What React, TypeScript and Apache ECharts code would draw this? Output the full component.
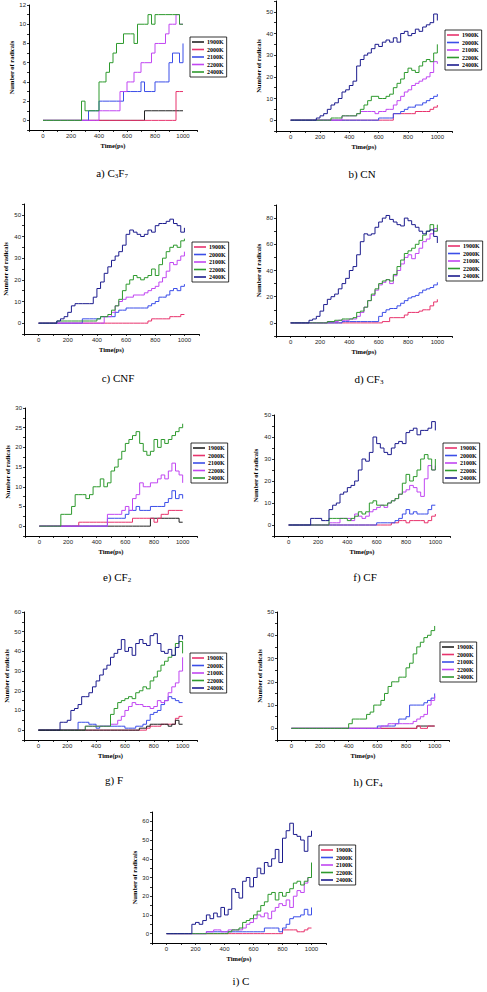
import React, { useEffect, useRef } from "react";
import * as echarts from "echarts";

const TIME = [0, 25, 50, 75, 100, 125, 150, 175, 200, 225, 250, 275, 300, 325, 350, 375, 400, 425, 450, 475, 500, 525, 550, 575, 600, 625, 650, 675, 700, 725, 750, 775, 800, 825, 850, 875, 900, 925, 950, 975, 1000];
const TEMPS = ["1900K", "2000K", "2100K", "2200K", "2400K"];
const X_LABELS = [0, 200, 400, 600, 800, 1000];

// a) C3F7
const a1900 = [0,0,0,0,0,0,0,0,0,0, 0,0,0,0,0,0,0,0,0,0, 0,0,0,0,0,0,0,0,0,1, 1,1,1,1,1,1,1,1,1,1, 1];
const a2000 = [0,0,0,0,0,0,0,0,0,0, 0,0,0,0,0,0,0,0,0,0, 0,0,0,0,0,0,0,0,0,0, 0,0,0,0,0,0,0,0,3,3, 3];
const a2100 = [0,0,0,0,0,0,0,0,0,0, 0,0,0,1,1,1,2,2,2,2, 2,2,2,3,3,3,3,3,4,3, 3,3,4,4,4,4,6,7,7,6, 8];
const a2200 = [0,0,0,0,0,0,0,0,0,0, 0,0,0,0,0,0,1,1,1,1, 1,1,3,3,4,4,5,5,6,6, 6,7,8,8,8,9,10,10,11,10, 10];
const a2400 = [0,0,0,0,0,0,0,0,0,0, 0,2,1,1,1,1,4,4,5,6, 7,8,8,9,9,9,8,10,10,10, 11,10,11,11,11,11,11,11,11,10, 10];

// b) CN
const b1900 = [0,0,0,0,0,0,0,0,0,0, 0,0,0,0,0,0,0,0,0,0, 0,0,0,0,0,0,0,0,3,3, 3,3,3,3,4,4,4,4,5,6, 7];
const b2000 = [0,0,0,0,0,0,0,0,0,0, 0,0,0,0,0,0,0,0,0,0, 0,0,0,0,1,1,1,1,3,3, 4,5,6,6,7,7,8,9,10,11, 12];
const b2100 = [0,0,0,0,0,0,0,0,0,0, 0,0,0,0,2,2,2,2,3,4, 4,4,4,3,4,4,5,5,7,9, 11,13,14,16,17,18,19,20,22,27, 26];
const b2200 = [0,0,0,0,0,0,0,0,0,0, 0,1,1,1,2,2,2,2,3,5, 7,9,11,11,10,10,11,12,15,17, 19,22,24,23,22,25,27,28,27,31, 35];
const b2400 = [0,0,0,0,0,0,0,1,2,3, 5,7,8,10,13,14,16,18,25,28, 30,31,33,35,34,36,37,36,38,36, 40,41,39,40,42,41,43,44,45,49, 46];

// c) CNF
const c1900 = [0,0,0,0,0,0,0,0,0,0, 0,0,0,0,0,0,0,0,0,0, 0,0,0,0,0,0,0,0,0,0, 1,2,2,2,2,2,3,3,3,4, 4];
const c2000 = [0,0,0,0,0,0,0,0,0,0, 0,0,2,2,2,2,2,3,3,3, 3,5,6,6,7,7,7,7,7,7, 8,9,10,12,12,13,15,16,15,17, 18];
const c2100 = [0,0,0,0,0,0,0,0,0,0, 0,0,0,0,0,0,0,0,3,3, 5,8,10,11,12,12,13,13,13,14, 15,16,17,19,21,24,28,27,29,31, 33];
const c2200 = [0,0,0,0,0,1,1,1,1,1, 1,1,1,1,1,1,2,3,3,4, 6,8,11,15,18,20,22,21,20,21, 22,25,22,27,30,33,35,36,35,38, 39];
const c2400 = [0,0,0,0,0,1,2,3,5,8, 9,9,9,9,9,12,16,19,23,26, 29,31,33,36,41,43,42,41,40,41, 43,42,45,46,46,47,48,46,45,42, 44];

// d) CF3
const d1900 = [0,0,0,0,0,0,0,0,0,0, 0,0,0,0,0,0,0,0,0,0, 0,0,0,0,0,1,1,4,4,4, 4,6,8,8,8,9,10,10,13,16, 18];
const d2000 = [0,0,0,0,0,0,0,0,0,0, 0,0,0,0,1,1,1,1,1,1, 1,1,1,1,5,8,10,11,11,13, 15,17,19,20,21,23,25,26,27,29, 31];
const d2100 = [0,0,0,0,0,0,0,0,0,0, 1,1,1,2,2,2,3,3,5,8, 12,17,21,25,29,31,33,30,36,40, 45,50,52,49,53,57,62,64,68,72, 70];
const d2200 = [0,0,0,0,0,0,0,0,0,0, 1,1,2,2,3,3,3,4,8,9, 12,17,22,26,30,32,33,32,37,43, 48,53,55,57,60,63,67,70,75,70, 75];
const d2400 = [0,0,0,0,0,2,3,5,9,14, 18,20,22,26,30,34,40,43,52,62, 68,67,68,73,77,80,82,79,77,75, 74,80,78,75,73,70,68,70,71,66, 61];

// e) CF2
const e1900 = [0,0,0,0,0,0,0,0,0,0, 0,0,0,0,0,0,0,0,0,0, 0,0,0,0,0,0,0,0,0,0, 0,2,2,2,2,2,2,2,2,1, 1];
const e2000 = [0,0,0,0,0,0,0,0,0,0, 0,1,1,1,1,1,1,1,1,1, 1,1,1,1,1,1,2,2,2,2, 2,2,1,2,3,3,4,4,4,4, 4];
const e2100 = [0,0,0,0,0,0,0,0,0,0, 0,0,0,0,0,0,0,0,0,2, 2,2,2,2,3,4,4,5,4,4, 4,5,5,5,5,6,7,9,7,8, 7];
const e2200 = [0,0,0,0,0,0,0,0,0,0, 0,0,0,0,0,0,0,0,0,3, 3,3,3,4,5,4,7,8,11,10, 10,11,11,12,13,12,14,16,14,13, 11];
const e2400 = [0,0,0,0,0,0,3,3,3,5, 8,8,8,7,8,10,10,12,10,11, 14,15,17,19,21,22,23,24,21,19, 18,19,22,20,22,21,22,23,24,25, 26];

// f) CF
const f1900 = [0,0,0,0,0,0,0,0,0,0, 0,0,0,0,0,0,0,0,0,0, 0,0,0,0,0,0,0,0,1,1, 2,2,1,2,2,2,2,1,2,4, 5];
const f2000 = [0,0,0,0,0,0,0,0,0,0, 0,0,0,0,0,0,0,0,0,0, 0,0,0,0,1,1,1,1,1,2, 3,5,7,5,6,5,5,5,7,9, 9];
const f2100 = [0,0,0,0,0,0,0,0,0,0, 0,1,1,1,3,3,3,2,5,4, 3,4,6,7,8,9,8,10,11,12, 14,15,16,18,17,15,13,21,27,25, 27];
const f2200 = [0,0,0,0,0,0,0,0,0,0, 0,3,3,3,3,3,2,3,4,6, 5,6,10,11,9,9,9,10,11,12, 14,19,23,20,22,25,30,32,30,25, 30];
const f2400 = [0,0,0,0,0,0,3,3,3,2, 2,7,9,10,14,15,17,18,20,25, 30,29,33,40,37,35,33,32,35,37, 38,37,42,43,44,41,43,43,44,47, 43];

// g) F
const g1900 = [0,0,0,0,0,0,0,0,0,0, 0,0,0,0,0,0,0,0,0,0, 0,0,0,0,0,0,0,0,0,0, 1,2,2,2,3,3,3,3,6,7, 7];
const gExtra = [0,0,0,0,0,0,0,0,0,0, 0,0,0,0,0,0,0,0,0,0, 0,0,0,0,0,0,0,0,1,1, 2,3,3,3,3,3,2,3,5,3, 3];
const g2000 = [0,0,0,0,0,0,0,0,0,0, 0,4,4,4,3,3,1,2,2,2, 2,2,2,2,1,1,1,2,2,3, 5,8,9,10,13,15,17,16,15,14, 14];
const g2100 = [0,0,0,0,0,0,0,0,0,0, 0,0,0,2,2,2,2,2,2,2, 3,3,5,7,10,12,14,13,13,12, 12,11,12,15,14,15,19,22,24,30, 37];
const g2200 = [0,0,0,0,0,0,0,0,0,0, 0,0,0,2,2,2,2,2,2,2, 8,11,14,15,16,17,16,19,20,22, 21,25,27,30,33,35,37,38,44,45, 39];
const g2400 = [0,0,0,0,0,0,4,4,5,10, 11,13,17,17,19,22,25,28,31,33, 37,39,41,46,40,42,38,44,46,44, 43,48,49,44,40,39,41,38,42,48, 46];

// h) CF4
const h1900 = [0,0,0,0,0,0,0,0,0,0, 0,0,0,0,0,0,0,0,0,0, 0,0,0,0,0,0,0,0,0,0, 0,0,0,0,0,1,1,1,1,1, 1];
const h2000 = [0,0,0,0,0,0,0,0,0,0, 0,0,0,0,0,0,0,0,0,0, 0,0,0,0,0,0,0,0,0,0, 0,0,0,0,0,1,0,0,1,1, 1];
const h2100 = [0,0,0,0,0,0,0,0,0,0, 0,0,0,0,0,0,0,0,0,0, 0,0,0,0,1,1,1,1,1,2, 4,4,5,10,10,10,10,11,12,13, 15];
const h2200 = [0,0,0,0,0,0,0,0,0,0, 0,0,0,0,0,0,0,0,0,0, 0,0,0,0,0,1,1,2,2,2, 2,2,2,2,3,4,5,6,10,12, 14];
const h2400 = [0,0,0,0,0,0,0,0,0,0, 0,0,0,0,0,0,2,4,4,4, 4,6,7,10,10,12,15,18,20,20, 22,22,26,28,32,35,37,39,40,42, 44];

// i) C
const i1900 = [0,0,0,0,0,0,0,0,0,0, 0,0,0,0,0,0,0,0,0,0, 0,0,0,0,0,0,0,0,0,0, 0,0,2,2,2,2,1,1,2,3, 3];
const i2000 = [0,0,0,0,0,0,0,0,0,0, 0,1,1,1,1,1,1,1,1,1, 1,1,1,1,1,1,1,3,3,3, 3,1,3,5,8,9,9,10,13,10, 14];
const i2100 = [0,0,0,0,0,0,0,0,0,0, 0,1,1,2,2,1,1,2,2,2, 2,3,5,6,8,10,9,11,8,12, 14,16,15,18,14,20,23,22,27,30, 34];
const i2200 = [0,0,0,0,0,0,0,0,0,0, 0,0,0,0,0,0,0,1,2,2, 3,6,7,8,10,12,15,17,21,22, 18,22,20,22,24,27,28,26,28,30, 38];
const i2400 = [0,0,0,0,0,0,0,5,6,5, 7,10,8,11,9,14,10,13,24,22, 19,28,30,25,30,35,32,38,36,40, 45,38,51,55,59,53,52,50,44,52, 55];

const RED = "#e8336d";
const BLUE = "#3b4ee8";
const VIOLET = "#c146f2";
const GREEN = "#2e9a2e";
const NAVY = "#1c1c8e";
const BLACK = "#222222";
const SET1 = [BLACK, RED, BLUE, VIOLET, GREEN];
const SET2 = [RED, BLUE, VIOLET, GREEN, NAVY];

const SERIF = "'Liberation Serif', 'Times New Roman', serif";
const SANS = "'Liberation Sans', Arial, sans-serif";

const panels = [
  { id: "a", cap: "a) C{s|3}F{s|7}", capX: 112, capY: 173, data: [a1900, a2000, a2100, a2200, a2400], colors: SET1,
    grid: { left: 29, top: 5, width: 168, height: 125 }, yMin: -1, yMax: 12, yInt: 1, yStep: 2, yTop: 12, legend: { left: 190, top: 37 }, yGap: 13 },
  { id: "b", cap: "b) CN", capX: 362, capY: 174, data: [b1900, b2000, b2100, b2200, b2400], colors: SET2,
    grid: { left: 276, top: 1, width: 176, height: 130 }, yMin: -5, yMax: 55, yInt: 5, yStep: 10, yTop: 50, legend: { left: 445, top: 30 }, yGap: 14 },
  { id: "c", cap: "c) CNF", capX: 118, capY: 378, data: [c1900, c2000, c2100, c2200, c2400], colors: SET2,
    grid: { left: 24, top: 204, width: 175, height: 130 }, yMin: -5, yMax: 55, yInt: 5, yStep: 10, yTop: 50, legend: { left: 192, top: 242 }, yGap: 15 },
  { id: "d", cap: "d) CF{s|3}", capX: 369, capY: 379, data: [d1900, d2000, d2100, d2200, d2400], colors: SET2,
    grid: { left: 276, top: 205, width: 176, height: 131 }, yMin: -10, yMax: 90, yInt: 10, yStep: 20, yTop: 80, legend: { left: 446, top: 241 }, yGap: 14 },
  { id: "e", cap: "e) CF{s|2}", capX: 117, capY: 577, data: [e1900, e2000, e2100, e2200, e2400], colors: SET1,
    grid: { left: 25, top: 408, width: 172, height: 128 }, yMin: -2.5, yMax: 30, yInt: 2.5, yStep: 5, yTop: 30, legend: { left: 191, top: 443 }, yGap: 13 },
  { id: "f", cap: "f) CF", capX: 365, capY: 577, data: [f1900, f2000, f2100, f2200, f2400], colors: SET2,
    grid: { left: 274, top: 415, width: 176, height: 121 }, yMin: -5, yMax: 50, yInt: 5, yStep: 10, yTop: 50, legend: { left: 443, top: 443 }, yGap: 15 },
  { id: "g", cap: "g) F", capX: 114, capY: 780, data: [g1900, g2000, g2100, g2200, g2400], colors: SET2,
    grid: { left: 24, top: 612, width: 173, height: 128 }, yMin: -5, yMax: 60, yInt: 5, yStep: 10, yTop: 60, legend: { left: 190, top: 653 }, yGap: 13 },
  { id: "h", cap: "h) CF{s|4}", capX: 368, capY: 782, data: [h1900, h2000, h2100, h2200, h2400], colors: SET1,
    grid: { left: 277, top: 612, width: 172, height: 128 }, yMin: -5, yMax: 50, yInt: 5, yStep: 10, yTop: 50, legend: { left: 440, top: 642 }, yGap: 13 },
  { id: "i", cap: "i) C", capX: 241, capY: 981, data: [i1900, i2000, i2100, i2200, i2400], colors: SET2,
    grid: { left: 152, top: 812, width: 174, height: 131 }, yMin: -5, yMax: 65, yInt: 5, yStep: 10, yTop: 60, legend: { left: 319, top: 845 }, yGap: 13 },
];

function buildOption() {
  const axisLine = { show: true, onZero: false, lineStyle: { color: "#000", width: 1 } };
  const axisTick = { show: true, length: 2, lineStyle: { color: "#000", width: 0.8 } };
  const nameStyle = { fontFamily: SERIF, fontWeight: "bold", fontSize: 6.5, color: "#000" };
  const labelBase = { fontSize: 6, color: "#222", fontFamily: SANS, margin: 3, interval: 0, hideOverlap: false, showMinLabel: true, showMaxLabel: true };

  const series: any[] = [];
  panels.forEach((p, i) => {
    p.data.forEach((arr, k) => {
      const color = p.colors[k];
      series.push({
        type: "line",
        name: `${p.id}|${TEMPS[k]}`,
        xAxisIndex: i,
        yAxisIndex: i,
        data: TIME.map((t, j) => [t, arr[j]]),
        step: "end",
        symbol: "none",
        showSymbol: false,
        lineStyle: { width: 1, color },
        itemStyle: { color },
        emphasis: { disabled: true },
      });
    });
    if (p.id === "g") {
      series.push({
        type: "line",
        name: "g|extra",
        xAxisIndex: i,
        yAxisIndex: i,
        data: TIME.map((t, j) => [t, gExtra[j]]),
        step: "end",
        symbol: "none",
        showSymbol: false,
        lineStyle: { width: 1, color: BLACK },
        itemStyle: { color: BLACK },
      });
    }
  });

  return {
    animation: false,
    backgroundColor: "#fff",
    grid: panels.map((p) => ({ ...p.grid, containLabel: false })),
    xAxis: panels.map((p, i) => ({
      type: "value",
      gridIndex: i,
      min: -100,
      max: 1100,
      interval: 100,
      axisLine,
      axisTick,
      splitLine: { show: false },
      axisLabel: { ...labelBase, formatter: (v: number) => (X_LABELS.includes(v) ? String(v) : "") },
      name: "Time(ps)",
      nameLocation: "middle",
      nameGap: 12,
      nameTextStyle: nameStyle,
    })),
    yAxis: panels.map((p, i) => ({
      type: "value",
      gridIndex: i,
      min: p.yMin,
      max: p.yMax,
      interval: p.yInt,
      axisLine,
      axisTick,
      splitLine: { show: false },
      axisLabel: {
        ...labelBase,
        formatter: (v: number) => {
          const r = v / p.yStep;
          return v >= 0 && v <= p.yTop && Math.abs(r - Math.round(r)) < 1e-6 ? String(Math.round(v)) : "";
        },
      },
      name: "Number of radicals",
      nameLocation: "middle",
      nameGap: p.yGap,
      nameTextStyle: nameStyle,
    })),
    legend: panels.map((p) => ({
      data: TEMPS.map((t) => `${p.id}|${t}`),
      left: p.legend.left,
      top: p.legend.top,
      orient: "vertical",
      icon: "rect",
      itemWidth: 12,
      itemHeight: 1.6,
      itemGap: 1.5,
      padding: [2, 3, 2, 2],
      borderColor: "#000",
      borderWidth: 0.8,
      backgroundColor: "#fff",
      selectedMode: false,
      formatter: (n: string) => n.split("|")[1],
      textStyle: { fontSize: 6, fontFamily: SERIF, fontWeight: "bold", color: "#000", padding: [0, 0, 0, -2] },
    })),
    graphic: panels.map((p) => ({
      type: "text",
      x: p.capX,
      y: p.capY,
      style: {
        text: p.cap,
        fontSize: 11,
        fontFamily: SERIF,
        fill: "#000",
        align: "center",
        verticalAlign: "middle",
        rich: {
          s: { fontSize: 7, fontFamily: SERIF, padding: [5, 0, 0, 0] },
        },
      },
    })),
    series,
  };
}

export default function App() {
  const ref = useRef<HTMLDivElement>(null);
  useEffect(() => {
    if (!ref.current) return;
    const chart = echarts.init(ref.current, null, { renderer: "svg" });
    chart.setOption(buildOption() as any);
    return () => chart.dispose();
  }, []);
  return <div ref={ref} style={{ position: "absolute", left: 0, top: 0, width: 487, height: 992, background: "#fff" }} />;
}
